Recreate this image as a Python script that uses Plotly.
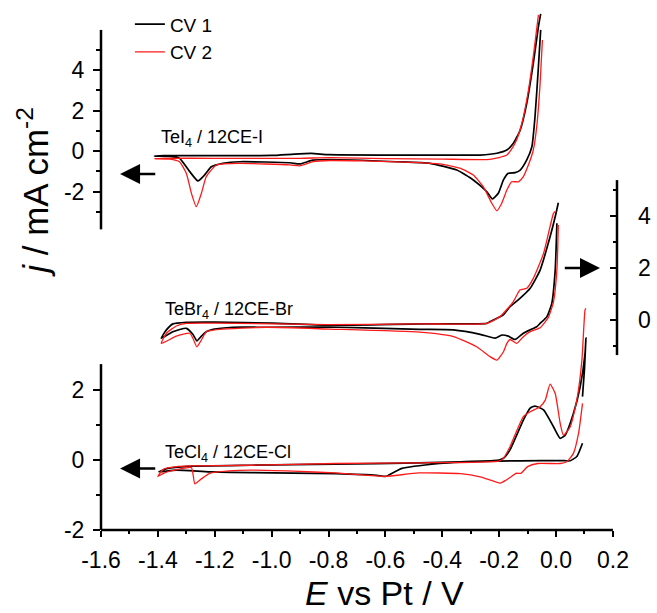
import plotly.graph_objects as go

# ---------------- data (E in V vs Pt, j in mA cm^-2) ----------------
tei4_cv1_E = [-0.054, -0.062, -0.074, -0.085, -0.103, -0.126, -0.144, -0.168, -0.185, -0.203, -0.224,
              -0.244, -0.291, -0.349, -0.443, -0.561, -0.795, -0.855, -0.901, -0.936, -1.112, -1.171,
              -1.212, -1.236, -1.259, -1.288, -1.324, -1.359, -1.412, -1.38, -1.2, -1.0, -0.92, -0.86,
              -0.8, -0.6, -0.3, -0.267, -0.208, -0.173, -0.150, -0.126, -0.103, -0.080, -0.062, -0.054]
tei4_cv1_j = [5.98, 4.16, 1.69, 0.21, -0.44, -0.94, -1.07, -1.10, -1.43, -2.09, -2.37,
              -2.00, -1.43, -0.94, -0.61, -0.53, -0.42, -0.45, -0.64, -0.58, -0.53, -0.61,
              -0.78, -1.19, -1.48, -1.02, -0.36, -0.27, -0.25, -0.23, -0.23, -0.22, -0.15, -0.12,
              -0.18, -0.20, -0.20, -0.20, -0.11, 0.05, 0.38, 1.04, 2.36, 4.33, 6.14, 6.77]

tei4_cv2_E = [-0.048, -0.056, -0.068, -0.080, -0.095, -0.115, -0.132, -0.156, -0.173, -0.191, -0.208,
              -0.226, -0.256, -0.291, -0.338, -0.408, -0.502, -0.678, -0.795, -0.854, -0.901, -0.936,
              -1.112, -1.194, -1.230, -1.247, -1.265, -1.282, -1.300, -1.324, -1.359, -1.412, -1.38,
              -1.2, -0.9, -0.8, -0.6, -0.4, -0.232, -0.173, -0.144, -0.120, -0.097, -0.077, -0.062]
tei4_cv2_j = [5.48, 3.34, 1.20, 0.05, -0.61, -1.27, -1.52, -1.52, -1.93, -2.58, -2.95,
              -2.58, -1.76, -1.19, -0.85, -0.64, -0.56, -0.49, -0.47, -0.53, -0.73, -0.69,
              -0.61, -0.69, -1.27, -2.09, -2.75, -2.09, -1.10, -0.53, -0.40, -0.38, -0.36,
              -0.36, -0.36, -0.33, -0.38, -0.40, -0.41, -0.20, 0.38, 1.37, 3.01, 4.99, 6.72]

tebr4_cv1_E = [0.003, -0.003, -0.015, -0.032, -0.056, -0.068, -0.091, -0.115, -0.144, -0.168, -0.191,
               -0.214, -0.267, -0.361, -0.479, -0.795, -1.018, -1.136, -1.206, -1.230, -1.247, -1.263,
               -1.277, -1.300, -1.347, -1.388, -1.370, -1.347, -1.300, -1.2, -1.0, -0.8, -0.479,
               -0.244, -0.232, -0.185, -0.162, -0.127, -0.091, -0.056, -0.021, -0.003, 0.008]
tebr4_cv1_j = [3.72, 1.92, 0.64, 0.13, -0.13, -0.26, -0.38, -0.51, -0.75, -0.62, -0.58,
               -0.70, -0.55, -0.38, -0.36, -0.27, -0.28, -0.28, -0.36, -0.45, -0.62, -0.80,
               -0.55, -0.32, -0.45, -0.70, -0.38, -0.15, -0.09, -0.08, -0.12, -0.20, -0.15,
               -0.13, -0.06, 0.20, 0.51, 0.83, 1.22, 1.92, 3.20, 3.97, 4.51]

tebr4_cv2_E = [0.008, 0.003, -0.009, -0.027, -0.056, -0.091, -0.115, -0.138, -0.162, -0.173, -0.185,
               -0.208, -0.232, -0.279, -0.361, -0.479, -0.795, -1.018, -1.183, -1.230, -1.247, -1.263,
               -1.277, -1.288, -1.335, -1.388, -1.370, -1.335, -1.300, -1.2, -0.8, -0.479, -0.244,
               -0.197, -0.150, -0.127, -0.103, -0.080, -0.044, -0.009, -0.003]
tebr4_cv2_j = [3.65, 1.92, 0.70, 0.10, -0.30, -0.45, -0.64, -0.90, -0.75, -0.90, -1.22,
               -1.54, -1.41, -1.03, -0.64, -0.47, -0.35, -0.28, -0.36, -0.45, -0.77, -1.03,
               -0.70, -0.51, -0.62, -0.90, -0.51, -0.23, -0.13, -0.12, -0.18, -0.15, -0.13,
               0.13, 0.71, 1.15, 1.22, 1.60, 2.56, 4.10, 4.17]

tecl4_cv1_E = [0.093, 0.073, 0.050, 0.030, -0.050, -0.200, -0.336, -0.410, -0.542, -0.590, -0.600,
               -0.630, -0.777, -1.071, -1.218, -1.335, -1.397, -1.365, -1.291, -1.071, -0.777, -0.483,
               -0.336, -0.220, -0.200, -0.185, -0.162, -0.115, -0.091, -0.074, -0.044, -0.009, 0.0145,
               0.032, 0.061, 0.085, 0.102, 0.105, 0.100, 0.093]
tecl4_cv1_j = [0.48, 0.10, -0.02, -0.02, -0.02, -0.03, -0.06, -0.10, -0.24, -0.44, -0.47,
               -0.44, -0.39, -0.36, -0.34, -0.29, -0.34, -0.24, -0.18, -0.15, -0.12, -0.08,
               -0.05, -0.02, 0.00, 0.05, 0.29, 1.14, 1.48, 1.54, 1.43, 0.95, 0.62,
               0.71, 1.33, 2.10, 3.05, 3.48, 2.60, 1.81]

tecl4_cv2_E = [0.093, 0.079, 0.061, 0.038, 0.0145, -0.065, -0.100, -0.124, -0.141, -0.158, -0.175,
               -0.196, -0.263, -0.336, -0.483, -0.601, -0.660, -0.777, -0.924, -1.071, -1.150, -1.218,
               -1.247, -1.270, -1.282, -1.330, -1.380, -1.400, -1.380, -1.335, -1.290, -1.070, -0.777,
               -0.483, -0.200, -0.185, -0.162, -0.115, -0.091, -0.056, -0.038, -0.021, -0.003, 0.0145,
               0.026, 0.050, 0.073, 0.091, 0.102, 0.105]
tecl4_cv2_j = [1.62, 0.76, 0.19, -0.05, -0.10, -0.10, -0.19, -0.38, -0.38, -0.48, -0.57,
               -0.66, -0.49, -0.39, -0.37, -0.47, -0.44, -0.37, -0.32, -0.29, -0.31, -0.38,
               -0.54, -0.68, -0.22, -0.27, -0.38, -0.47, -0.26, -0.19, -0.17, -0.15, -0.10,
               -0.08, -0.03, 0.05, 0.38, 1.24, 1.38, 1.52, 1.71, 2.17, 1.90, 1.05,
               0.71, 0.95, 1.71, 2.86, 4.29, 4.33]

x_tickvals = [-1.6, -1.4, -1.2, -1.0, -0.8, -0.6, -0.4, -0.2, 0.0, 0.2]
x_ticktext = ["-1.6", "-1.4", "-1.2", "-1.0", "-0.8", "-0.6", "-0.4", "-0.2", "0.0", "0.2"]
x_minor = [-1.5, -1.3, -1.1, -0.9, -0.7, -0.5, -0.3, -0.1, 0.1]

cl_tickvals, cl_ticktext, cl_minor = [-2, 0, 2], ["-2", "0", "2"], [-1, 1]
i_tickvals, i_ticktext, i_minor = [-2, 0, 2, 4], ["-2", "0", "2", "4"], [-3, -1, 1, 3, 5]
br_tickvals, br_ticktext, br_minor = [0, 2, 4], ["0", "2", "4"], [-1, 1, 3, 5]

labels = ["TeI<sub>4</sub> / 12CE-I", "TeBr<sub>4</sub> / 12CE-Br", "TeCl<sub>4</sub> / 12CE-Cl"]
series_names = ["CV 1", "CV 2"]
colors = ["#000000", "#ff1a1a"]

FONT = "Arial, 'Liberation Sans', sans-serif"

fig = go.Figure()


def add(E, j, k, yaxis, showlegend):
    fig.add_trace(go.Scatter(
        x=E, y=j, mode="lines", name=series_names[k], legendgroup=series_names[k],
        showlegend=showlegend, yaxis=yaxis, hoverinfo="skip",
        line=dict(color=colors[k], width=1.7 if k == 0 else 1.3, shape="spline", smoothing=0.5)))


add(tei4_cv1_E, tei4_cv1_j, 0, "y2", True)
add(tei4_cv2_E, tei4_cv2_j, 1, "y2", True)
add(tebr4_cv1_E, tebr4_cv1_j, 0, "y3", False)
add(tebr4_cv2_E, tebr4_cv2_j, 1, "y3", False)
add(tecl4_cv1_E, tecl4_cv1_j, 0, "y", False)
add(tecl4_cv2_E, tecl4_cv2_j, 1, "y", False)

tickfont = dict(family=FONT, size=23, color="black")
common_y = dict(showgrid=False, zeroline=False, showline=False, tickmode="array",
                tickfont=tickfont, ticklen=7, tickwidth=2, tickcolor="black")

fig.update_layout(
    width=657, height=613,
    margin=dict(l=101, r=40, t=5, b=83),
    plot_bgcolor="white", paper_bgcolor="white",
    font=dict(family=FONT, color="black"),
    xaxis=dict(range=[-1.6, 0.2143], showgrid=False, zeroline=False, showline=False,
               tickmode="array", tickvals=x_tickvals, ticktext=x_ticktext, ticks="outside",
               ticklen=6, tickwidth=2, tickcolor="black", tickfont=tickfont, ticklabelstandoff=3,
               minor=dict(tickmode="array", tickvals=x_minor, ticks="outside", ticklen=3,
                          tickwidth=2, tickcolor="black")),
    yaxis=dict(range=[-2, 13], tickvals=cl_tickvals, ticktext=cl_ticktext, ticks="outside",
               ticklabelstandoff=4,
               minor=dict(tickmode="array", tickvals=cl_minor, ticks="outside", ticklen=4,
                          tickwidth=2, tickcolor="black"), **common_y),
    yaxis2=dict(range=[-18.716, 7.21], overlaying="y", anchor="x", side="left",
                tickvals=i_tickvals, ticktext=i_ticktext, ticks="outside", ticklabelstandoff=4,
                minor=dict(tickmode="array", tickvals=i_minor, ticks="outside", ticklen=4,
                           tickwidth=2, tickcolor="black"), **common_y),
    yaxis3=dict(range=[-8.077, 12.115], overlaying="y", anchor="x", side="right",
                tickvals=br_tickvals, ticktext=br_ticktext, ticks="inside", ticklabelstandoff=20,
                minor=dict(tickmode="array", tickvals=br_minor, ticks="inside", ticklen=4,
                           tickwidth=2, tickcolor="black"), **common_y),
    legend=dict(x=0.056, y=0.9995, xanchor="left", yanchor="top", bgcolor="rgba(0,0,0,0)",
                font=dict(family=FONT, size=19, color="black"), tracegroupgap=0),
    showlegend=True,
)

# axis lines (drawn only over the span each panel uses)
axis_line = dict(color="black", width=2.5)
fig.add_shape(type="line", xref="x", yref="paper", x0=-1.6, x1=0.2, y0=0, y1=0, line=axis_line)
fig.add_shape(type="line", xref="paper", yref="y", x0=0, x1=0, y0=-2, y1=2.74, line=axis_line)
fig.add_shape(type="line", xref="paper", yref="y2", x0=0, x1=0, y0=-3.87, y1=5.98, line=axis_line)
fig.add_shape(type="line", xref="paper", yref="y3", x0=1, x1=1, y0=-1.35, y1=5.38, line=axis_line)

# panel labels
lab_font = dict(family=FONT, size=18, color="black")
fig.add_annotation(x=-1.397, y=-0.04, xref="x", yref="y2", text=labels[0], showarrow=False,
                   xanchor="left", yanchor="bottom", font=lab_font)
fig.add_annotation(x=-1.383, y=-0.17, xref="x", yref="y3", text=labels[1], showarrow=False,
                   xanchor="left", yanchor="bottom", font=lab_font)
fig.add_annotation(x=-1.381, y=-0.207, xref="x", yref="y", text=labels[2], showarrow=False,
                   xanchor="left", yanchor="bottom", font=lab_font)

# arrows showing which axis belongs to each panel
arrow = dict(showarrow=True, arrowhead=2, arrowsize=1.6, arrowwidth=2.5, arrowcolor="black",
             standoff=0, text="")
fig.add_annotation(x=-1.533, y=-1.13, xref="x", yref="y2", ax=-1.404, ay=-1.13, axref="x",
                   ayref="y2", **arrow)
fig.add_annotation(x=0.1546, y=2.0, xref="x", yref="y3", ax=0.0255, ay=2.0, axref="x",
                   ayref="y3", **arrow)
fig.add_annotation(x=-1.533, y=-0.24, xref="x", yref="y", ax=-1.404, ay=-0.24, axref="x",
                   ayref="y", **arrow)

# axis titles
fig.add_annotation(x=-0.132, y=0.644, xref="paper", yref="paper", text="<i>j</i> / mA cm<sup>-2</sup>",
                   showarrow=False, textangle=-90, xanchor="center", yanchor="middle",
                   font=dict(family=FONT, size=35, color="black"))
fig.add_annotation(x=0.55, y=-0.12, xref="paper", yref="paper", text="<i>E</i> vs Pt / V",
                   showarrow=False, xanchor="center", yanchor="middle",
                   font=dict(family=FONT, size=34, color="black"))

fig.write_html("out.html", config={"displayModeBar": False},
               post_script="document.body.style.margin='0px';")
